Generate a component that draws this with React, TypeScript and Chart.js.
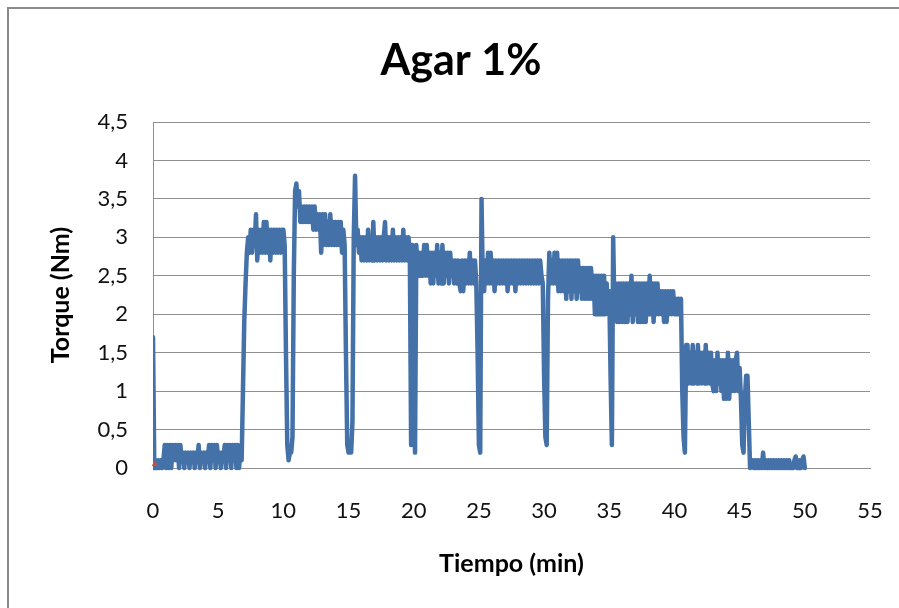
import React, { useEffect, useRef } from "react";
import { Chart, registerables } from "chart.js";

Chart.register(...registerables);

const CHART_TITLE = "Agar 1%";
const X_TITLE = "Tiempo (min)";
const Y_TITLE = "Torque (Nm)";
const X_TICKS = [0, 5, 10, 15, 20, 25, 30, 35, 40, 45, 50, 55];
const Y_TICKS = [0, 0.5, 1, 1.5, 2, 2.5, 3, 3.5, 4, 4.5];

// Sampling interval of the torque recording (minutes)
const SAMPLE_STEP_MIN = 0.1;

// Torque (Nm), one row per minute of recording (10 samples per row)
const TORQUE_NM = [
  1.7, 0.0, 0.1, 0.0, 0.1, 0.0, 0.1, 0.0, 0.1, 0.3,
  0.0, 0.3, 0.0, 0.3, 0.0, 0.3, 0.1, 0.3, 0.1, 0.3,
  0.0, 0.3, 0.1, 0.2, 0.0, 0.2, 0.1, 0.2, 0.0, 0.2,
  0.1, 0.2, 0.0, 0.2, 0.1, 0.3, 0.0, 0.2, 0.1, 0.2,
  0.0, 0.2, 0.1, 0.3, 0.0, 0.3, 0.1, 0.3, 0.0, 0.3,
  0.1, 0.2, 0.0, 0.2, 0.1, 0.3, 0.0, 0.3, 0.1, 0.3,
  0.0, 0.3, 0.1, 0.3, 0.0, 0.3, 0.0, 0.2, 0.1, 1.0,
  1.9, 2.4, 2.8, 3.0, 2.8, 3.1, 2.8, 3.1, 2.9, 3.3,
  2.7, 3.1, 2.8, 3.1, 2.8, 3.2, 2.8, 3.2, 2.8, 3.1,
  2.7, 3.1, 2.8, 3.1, 2.8, 3.1, 2.8, 3.1, 2.8, 3.1,
  3.1, 2.9, 1.5, 0.3, 0.1, 0.2, 0.2, 0.4, 2.5, 3.6,
  3.7, 3.4, 3.6, 3.2, 3.4, 3.2, 3.4, 3.2, 3.4, 3.2,
  3.4, 3.2, 3.4, 3.1, 3.4, 3.1, 3.3, 3.1, 3.3, 2.8,
  3.3, 2.9, 3.3, 2.9, 3.2, 2.9, 3.3, 2.9, 3.2, 2.9,
  3.2, 2.9, 3.2, 2.9, 3.2, 2.8, 3.1, 2.9, 1.5, 0.3,
  0.2, 0.2, 0.2, 0.6, 3.0, 3.8, 2.9, 3.1, 2.8, 3.0,
  2.7, 3.0, 2.7, 3.0, 2.7, 3.1, 2.7, 3.0, 2.7, 3.2,
  2.7, 3.0, 2.7, 3.0, 2.7, 3.0, 2.7, 3.0, 3.2, 2.7,
  3.0, 2.7, 3.0, 2.7, 3.1, 2.7, 3.0, 2.7, 3.0, 2.7,
  3.0, 2.7, 3.1, 2.7, 3.0, 2.7, 3.0, 2.8, 0.3, 2.9,
  1.0, 0.2, 2.9, 2.5, 2.8, 2.5, 2.8, 2.5, 2.9, 2.5,
  2.9, 2.5, 2.8, 2.4, 2.8, 2.4, 2.8, 2.5, 2.9, 2.4,
  2.8, 2.4, 2.9, 2.4, 2.8, 2.5, 2.8, 2.4, 2.8, 2.5,
  2.7, 2.4, 2.7, 2.4, 2.7, 2.4, 2.3, 2.7, 2.3, 2.7,
  2.4, 2.7, 2.4, 2.8, 2.4, 2.7, 2.4, 2.7, 2.4, 1.5,
  0.3, 0.2, 3.5, 2.4, 2.3, 2.7, 2.4, 2.8, 2.4, 2.8,
  2.4, 2.7, 2.3, 2.7, 2.4, 2.7, 2.4, 2.7, 2.4, 2.7,
  2.4, 2.7, 2.3, 2.7, 2.4, 2.7, 2.4, 2.7, 2.3, 2.7,
  2.4, 2.7, 2.4, 2.7, 2.4, 2.7, 2.4, 2.7, 2.4, 2.7,
  2.4, 2.7, 2.4, 2.7, 2.4, 2.7, 2.4, 2.7, 2.5, 2.4,
  1.2, 0.4, 0.3, 2.2, 2.8, 2.4, 2.7, 2.4, 2.8, 2.4,
  2.8, 2.3, 2.7, 2.3, 2.7, 2.3, 2.7, 2.2, 2.7, 2.3,
  2.7, 2.2, 2.7, 2.3, 2.7, 2.2, 2.7, 2.3, 2.6, 2.2,
  2.6, 2.2, 2.6, 2.2, 2.6, 2.2, 2.6, 2.2, 2.5, 2.0,
  2.5, 2.0, 2.5, 2.0, 2.5, 2.0, 2.5, 2.0, 2.4, 2.0,
  2.3, 1.2, 0.3, 3.0, 2.0, 2.4, 1.9, 2.4, 1.9, 2.4,
  1.9, 2.4, 1.9, 2.4, 1.9, 2.4, 2.0, 2.5, 1.9, 2.4,
  2.0, 2.4, 1.9, 2.4, 1.9, 2.4, 1.9, 2.4, 1.9, 2.4,
  2.0, 2.5, 2.0, 2.4, 1.9, 2.4, 2.0, 2.4, 2.0, 2.3,
  2.0, 2.3, 1.9, 2.3, 1.9, 2.3, 2.0, 2.3, 2.0, 2.3,
  2.0, 2.2, 2.0, 2.2, 2.0, 2.2, 1.0, 0.4, 0.2, 1.6,
  1.6, 1.1, 1.5, 1.1, 1.6, 1.1, 1.5, 1.1, 1.6, 1.1,
  1.5, 1.1, 1.5, 1.1, 1.6, 1.1, 1.5, 1.1, 1.5, 1.1,
  1.0, 1.4, 1.0, 1.5, 1.1, 1.4, 1.0, 1.4, 0.9, 1.4,
  0.9, 1.5, 0.9, 1.4, 1.0, 1.4, 1.0, 1.4, 1.5, 1.0,
  1.3, 0.9, 0.3, 0.2, 0.9, 1.2, 1.2, 0.6, 0.0, 0.1,
  0.1, 0.0, 0.1, 0.0, 0.1, 0.0, 0.1, 0.0, 0.2, 0.0,
  0.1, 0.0, 0.1, 0.0, 0.1, 0.0, 0.1, 0.0, 0.1, 0.0,
  0.1, 0.0, 0.1, 0.0, 0.1, 0.0, 0.1, 0.0, 0.1, 0.0,
  0.0, 0.0, 0.1, 0.15, 0.0, 0.0, 0.1, 0.0, 0.1, 0.15,
  0.0,
];

// Second (red) series: a single marker near the origin
const MARKER_TIME = [0.15];
const MARKER_TORQUE = [0.05];

const BLUE = "#4571a9";
const RED = "#c0504d";
const GRID = "#8f8f8f";
const FONT = "Lato, 'Open Sans', sans-serif";

export default function App() {
  const canvasRef = useRef<HTMLCanvasElement | null>(null);

  useEffect(() => {
    const canvas = canvasRef.current;
    if (!canvas) return;

    const torquePoints = TORQUE_NM.map((v, i) => ({
      x: Math.round(i * SAMPLE_STEP_MIN * 100) / 100,
      y: v,
    }));
    const markerPoints = MARKER_TIME.map((t, i) => ({ x: t, y: MARKER_TORQUE[i] }));

    const titlePlacement = {
      id: "titlePlacement",
      afterLayout(chart: any) {
        const tb = chart.titleBlock;
        if (tb) {
          tb.left = 22;
          tb.right = 900;
        }
      },
    };

    const chart = new Chart(canvas, {
      type: "line",
      data: {
        datasets: [
          {
            label: "marker",
            data: markerPoints,
            showLine: false,
            pointStyle: "triangle",
            pointRadius: 3,
            pointBackgroundColor: RED,
            pointBorderColor: RED,
            borderColor: RED,
            backgroundColor: RED,
            order: 0,
            clip: false as any,
          },
          {
            label: "Torque",
            data: torquePoints,
            borderColor: BLUE,
            backgroundColor: BLUE,
            borderWidth: 4.5,
            pointRadius: 0,
            tension: 0,
            borderJoinStyle: "round",
            borderCapStyle: "round",
            order: 1,
            clip: { left: 0, top: 6, right: 6, bottom: 6 } as any,
          },
        ],
      },
      options: {
        animation: false,
        responsive: false,
        devicePixelRatio: 1,
        events: [],
        layout: { padding: { left: 0, right: 29, top: 0, bottom: 0 } },
        plugins: {
          legend: { display: false },
          tooltip: { enabled: false },
          title: {
            display: true,
            text: CHART_TITLE,
            color: "#000000",
            font: { family: FONT, size: 43, weight: "bold" },
            padding: { top: 35, bottom: 35.4 },
          },
        },
        scales: {
          x: {
            type: "linear",
            min: X_TICKS[0],
            max: X_TICKS[X_TICKS.length - 1],
            afterBuildTicks: (scale: any) => {
              scale.ticks = X_TICKS.map((v) => ({ value: v }));
            },
            afterFit: (scale: any) => {
              scale.height = 140;
              scale.paddingLeft = 0;
              scale.paddingRight = 0;
            },
            grid: { display: false, drawTicks: false },
            border: { display: true, color: GRID, width: 1 },
            ticks: {
              padding: 30,
              color: "#111111",
              font: { family: FONT, size: 22 },
              maxRotation: 0,
              autoSkip: false,
              callback: (v: any) => String(v),
            },
            title: {
              display: true,
              text: X_TITLE,
              color: "#000000",
              font: { family: FONT, size: 25, weight: "bold" },
              padding: { top: 0, bottom: 28.6 },
            },
          },
          y: {
            type: "linear",
            min: Y_TICKS[0],
            max: Y_TICKS[Y_TICKS.length - 1],
            afterBuildTicks: (scale: any) => {
              scale.ticks = Y_TICKS.map((v) => ({ value: v }));
            },
            afterFit: (scale: any) => {
              scale.width = 153;
              scale.paddingTop = 0;
              scale.paddingBottom = 0;
            },
            grid: { display: true, color: GRID, lineWidth: 1, drawTicks: false },
            border: { display: true, color: GRID, width: 1 },
            ticks: {
              padding: 25,
              color: "#111111",
              font: { family: FONT, size: 22 },
              autoSkip: false,
              callback: (v: any) => String(v).replace(".", ","),
            },
            title: {
              display: true,
              text: Y_TITLE,
              color: "#000000",
              font: { family: FONT, size: 25, weight: "bold" },
              padding: { top: 45.5, bottom: 0 },
            },
          },
        },
      },
      plugins: [titlePlacement],
    });

    return () => {
      chart.destroy();
    };
  }, []);

  return (
    <div>
      <div
        style={{
          position: "fixed",
          left: 7,
          top: 7,
          width: 1000,
          height: 1000,
          border: "2px solid #8a8a8a",
          background: "#ffffff",
          boxSizing: "border-box",
        }}
      />
      <canvas
        ref={canvasRef}
        width={899}
        height={608}
        style={{ position: "fixed", left: 0, top: 0, width: 899, height: 608 }}
      />
    </div>
  );
}
